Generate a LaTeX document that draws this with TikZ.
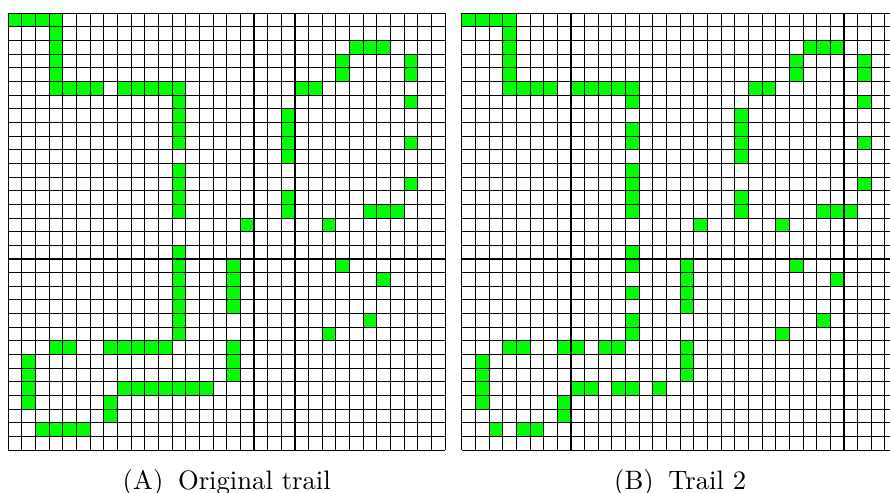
\documentclass[tikz,border=0pt]{standalone}
\newcommand{\trailA}{0/0,1/0,2/0,3/0,3/1,3/2,3/3,3/4,25/2,26/2,27/2,24/3,29/3,24/4,29/4,
  3/5,4/5,5/5,6/5,8/5,9/5,10/5,11/5,12/5,21/5,22/5,12/6,29/6,12/7,20/7,12/8,20/8,
  12/9,20/9,29/9,20/10,12/11,12/12,29/12,12/13,20/13,12/14,20/14,26/14,27/14,28/14,
  17/15,23/15,12/17,12/18,16/18,24/18,12/19,16/19,27/19,12/20,16/20,12/21,16/21,
  12/22,26/22,12/23,23/23,3/24,4/24,7/24,8/24,9/24,10/24,11/24,16/24,1/25,16/25,
  1/26,16/26,1/27,8/27,9/27,10/27,11/27,12/27,13/27,14/27,1/28,7/28,7/29,
  2/30,3/30,4/30,5/30}
\newcommand{\trailB}{0/0,1/0,2/0,3/0,3/1,3/2,3/3,3/4,25/2,26/2,27/2,24/3,29/3,24/4,29/4,
  3/5,4/5,5/5,6/5,8/5,9/5,10/5,11/5,12/5,21/5,22/5,12/6,29/6,20/7,12/8,20/8,
  12/9,20/9,29/9,20/10,12/11,12/12,29/12,12/13,20/13,12/14,20/14,26/14,27/14,28/14,
  17/15,23/15,12/17,12/18,16/18,24/18,16/19,27/19,12/20,16/20,16/21,
  12/22,26/22,12/23,23/23,3/24,4/24,7/24,8/24,10/24,11/24,16/24,1/25,16/25,
  1/26,16/26,1/27,8/27,9/27,11/27,12/27,14/27,1/28,7/28,7/29,
  2/30,4/30,5/30}
\tikzset{food/.style={fill=green}, gridline/.style={line width=0.4pt}}
\begin{document}
\begin{tikzpicture}[x=0.18cm,y=-0.18cm]
  \useasboundingbox (-0.608,-0.974) rectangle (64.59,35.07);
  \clip (-0.608,-0.974) rectangle (64.59,35.07);
  % original trail
  \foreach \c/\r in \trailA{
    \fill[food] (\c,\r) rectangle ++(1,1);
  }
  \foreach \i in {0,...,32}{
    \draw[gridline] (\i,0) -- (\i,32);
    \draw[gridline] (0,\i) -- (32,\i);
  }
  \node[anchor=base] (capA) at (16,34.85) {(A)\hspace{0.55em}Original trail};
  % trail 2
  \begin{scope}[xshift=33.22*0.18cm]
    \foreach \c/\r in \trailB{
      \fill[food] (\c,\r) rectangle ++(1,1);
    }
    \foreach \i in {0,...,32}{
      \draw[gridline] (\i,0) -- (\i,32);
      \draw[gridline] (0,\i) -- (32,\i);
    }
    \node[anchor=base] (capB) at (16,34.85) {(B)\hspace{0.55em}Trail 2};
  \end{scope}
\end{tikzpicture}
\end{document}
